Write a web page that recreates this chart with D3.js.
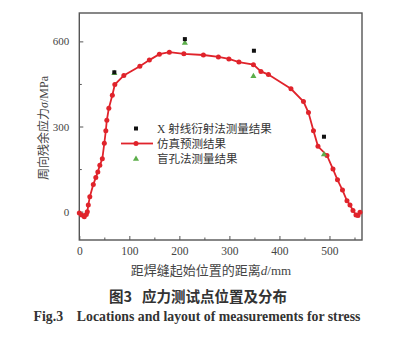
<!DOCTYPE html>
<html>
<head>
<meta charset="utf-8">
<script src="https://cdn.jsdelivr.net/npm/d3@7"></script>
<style>
  html, body { margin: 0; padding: 0; background: #fff; }
  svg { display: block; }
</style>
</head>
<body>
<svg id="chart" width="396" height="338"></svg>
<script>
// Simulated circumferential residual stress along the weld (distance mm, stress MPa)
const simDistance = [0, 5, 10, 14, 16, 18, 21, 28, 33, 37, 41, 46, 50, 53, 55, 59, 66, 71, 89, 121, 140, 160, 180, 209, 248, 278, 299, 319, 348, 363, 378, 423, 448, 458, 468, 477, 495, 507, 516, 526, 535, 541, 547, 553, 557, 561];
const simStress   = [-5, -12, -18, -10, 0, 23, 52, 96, 120, 140, 163, 186, 241, 285, 322, 364, 410, 448, 480, 512, 534, 555, 562, 556, 552, 545, 538, 527, 518, 494, 483, 433, 388, 349, 285, 230, 198, 150, 112, 76, 38, 23, 4, -12, -14, -2];

// X-ray diffraction measurements
const xrdDistance = [70, 211, 349, 489];
const xrdStress   = [491, 608, 567, 264];

// Hole-drilling measurements
const holeDistance = [70, 211, 348, 489];
const holeStress   = [488, 594, 477, 201];

const xTicks = [0, 100, 200, 300, 400, 500];
const xMinor = [50, 150, 250, 350, 450, 550];
const yTicks = [0, 300, 600];
const yMinor = [150, 450];

const legendLabels = ["X 射线衍射法测量结果", "仿真预测结果", "盲孔法测量结果"];

const svg = d3.select("#chart");
const plotLeft = 79.3, plotRight = 362, plotTop = 13, plotBottom = 240;

const x = d3.scaleLinear().domain([0, 565]).range([plotLeft, plotRight]);
const y = d3.scaleLinear().domain([-100, 700]).range([plotBottom, plotTop]);

const serif = "'Liberation Serif', 'DejaVu Serif', serif";
const cjk = "'Noto Sans CJK SC', sans-serif";
const axisColor = "#555";
const textColor = "#444";

// minor ticks (inward)
svg.append("g")
  .attr("transform", `translate(0,${plotBottom})`)
  .call(d3.axisBottom(x).tickValues(xMinor).tickSizeInner(-2.5).tickSizeOuter(0).tickFormat(""))
  .call(g => g.select(".domain").remove())
  .call(g => g.selectAll("line").attr("stroke", axisColor));
svg.append("g")
  .attr("transform", `translate(${plotLeft},0)`)
  .call(d3.axisLeft(y).tickValues(yMinor).tickSizeInner(-2.5).tickSizeOuter(0).tickFormat(""))
  .call(g => g.select(".domain").remove())
  .call(g => g.selectAll("line").attr("stroke", axisColor));

// major ticks
svg.append("g")
  .attr("transform", `translate(0,${plotBottom})`)
  .call(d3.axisBottom(x).tickValues(xTicks).tickSizeInner(-4).tickSizeOuter(0).tickPadding(7).tickFormat(d3.format("d")))
  .call(g => g.select(".domain").remove())
  .call(g => g.selectAll("line").attr("stroke", axisColor))
  .call(g => g.selectAll("text").attr("fill", textColor).style("font-family", serif).style("font-size", "11.5px"));
svg.append("g")
  .attr("transform", `translate(${plotLeft},0)`)
  .call(d3.axisLeft(y).tickValues(yTicks).tickSizeInner(-4).tickSizeOuter(0).tickPadding(10).tickFormat(d3.format("d")))
  .call(g => g.select(".domain").remove())
  .call(g => g.selectAll("line").attr("stroke", axisColor))
  .call(g => g.selectAll("text").attr("fill", textColor).style("font-family", serif).style("font-size", "11px"));

// frame
svg.append("rect")
  .attr("x", plotLeft).attr("y", plotTop)
  .attr("width", plotRight - plotLeft).attr("height", plotBottom - plotTop)
  .attr("fill", "none").attr("stroke", axisColor).attr("stroke-width", 1.4);

// simulation line
const sim = simDistance.map((d, i) => [d, simStress[i]]);
const red = "#e0232b";
svg.append("path")
  .datum(sim)
  .attr("fill", "none")
  .attr("stroke", red)
  .attr("stroke-width", 1.8)
  .attr("d", d3.line().x(d => x(d[0])).y(d => y(d[1])));
svg.append("g").selectAll("circle")
  .data(sim).join("circle")
  .attr("cx", d => x(d[0])).attr("cy", d => y(d[1]))
  .attr("r", 2.5).attr("fill", red);

// hole-drilling triangles
const green = "#5cae4a";
const tri = d3.symbol().type(d3.symbolTriangle).size(16);
svg.append("g").selectAll("path")
  .data(holeDistance.map((d, i) => [d, holeStress[i]])).join("path")
  .attr("transform", d => `translate(${x(d[0])},${y(d[1])})`)
  .attr("d", tri).attr("fill", green);

// X-ray squares
svg.append("g").selectAll("rect")
  .data(xrdDistance.map((d, i) => [d, xrdStress[i]])).join("rect")
  .attr("x", d => x(d[0]) - 2).attr("y", d => y(d[1]) - 2)
  .attr("width", 4).attr("height", 4).attr("fill", "#111");

// legend
const lg = svg.append("g");
const lx = 136, ly = [128.5, 143.5, 159];
lg.append("rect").attr("x", lx - 2).attr("y", ly[0] - 2).attr("width", 4).attr("height", 4).attr("fill", "#111");
lg.append("line").attr("x1", lx - 15).attr("x2", lx + 17).attr("y1", ly[1]).attr("y2", ly[1])
  .attr("stroke", red).attr("stroke-width", 1.8);
lg.append("circle").attr("cx", lx).attr("cy", ly[1]).attr("r", 2.5).attr("fill", red);
lg.append("path").attr("transform", `translate(${lx},${ly[2]})`).attr("d", tri).attr("fill", green);
lg.selectAll("text").data(legendLabels).join("text")
  .attr("x", 157).attr("y", (d, i) => ly[i] + 4)
  .attr("fill", "#333")
  .style("font-family", `${serif}, ${cjk}`)
  .style("font-size", "11.5px")
  .text(d => d);

// axis titles
svg.append("text")
  .attr("x", 211).attr("y", 275)
  .attr("text-anchor", "middle")
  .attr("fill", textColor)
  .style("font-family", `${serif}, ${cjk}`)
  .style("font-size", "13px")
  .html("距焊缝起始位置的距离<tspan font-style='italic'>d</tspan>/mm");

svg.append("text")
  .attr("transform", "translate(48,128) rotate(-90)")
  .attr("text-anchor", "middle")
  .attr("fill", textColor)
  .style("font-family", `${serif}, ${cjk}`)
  .style("font-size", "12px")
  .html("周向残余应力<tspan font-style='italic'>σ</tspan>/MPa");

// captions
svg.append("text")
  .attr("x", 198).attr("y", 302)
  .attr("text-anchor", "middle")
  .attr("fill", "#333")
  .style("font-family", cjk)
  .style("font-weight", "bold")
  .style("font-size", "14.5px")
  .attr("xml:space", "preserve")
  .text("图3   应力测试点位置及分布");

svg.append("text")
  .attr("x", 197).attr("y", 321)
  .attr("text-anchor", "middle")
  .attr("fill", "#333")
  .style("font-family", serif)
  .style("font-weight", "bold")
  .style("font-size", "13.8px")
  .attr("xml:space", "preserve")
  .text("Fig.3    Locations and layout of measurements for stress");
</script>
</body>
</html>
